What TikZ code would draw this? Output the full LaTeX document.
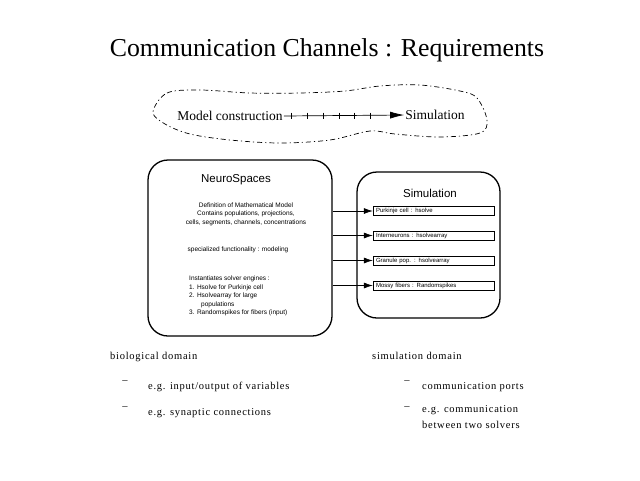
\documentclass[tikz,border=0pt]{standalone}
\usepackage{fontspec}
\setmainfont{Liberation Serif}
\setsansfont{Liberation Sans}
\usetikzlibrary{arrows.meta}
\begin{document}
\begin{tikzpicture}[x=1pt,y=-1pt,
  titlefont/.style={font=\fontsize{25.8}{30}\selectfont},
  cloudtext/.style={font=\fontsize{13.5}{16}\selectfont, inner sep=1pt},
  cloudline/.style={line width=0.7pt, dash pattern=on 5pt off 3pt on 1.2pt off 3pt},
  bigbox/.style={draw, line width=1.3pt, rounded corners=20pt},
  boxtitle/.style={font=\sffamily\fontsize{11.5}{13}\selectfont},
  tiny/.style={font=\sffamily\fontsize{6.5}{8.5}\selectfont, inner sep=0pt},
  inbox/.style={draw, line width=0.5pt, minimum width=121pt, minimum height=9pt, inner sep=0pt, text width=115pt, align=left, font=\sffamily\fontsize{6}{7}\selectfont},
  conn/.style={line width=0.6pt, -{Latex[length=9pt,width=6pt]}},
  bottomtext/.style={font=\fontsize{10.5}{16}\selectfont\addfontfeature{LetterSpace=7}, anchor=base west, inner sep=0pt},
  dashmark/.style={font=\fontsize{10.5}{12}\selectfont, inner sep=0pt}
]
\useasboundingbox (0,0) rectangle (640,480);

% title
\node[titlefont] (title) at (327,50) {Communication Channels : Requirements};

% cloud
\draw[cloudline] plot[smooth cycle, tension=0.55] coordinates {
  (153,112) (167,93) (200,90) (250,93) (300,93) (345,91) (380,86) (420,85)
  (460,91) (477,98) (487,120) (480,133) (440,137) (395,134) (370,131)
  (330,140) (280,143) (230,140) (190,134) (165,124)};

\node[cloudtext] (mc) at (230,116) {Model construction};
\node[cloudtext] (simc) at (435,115) {Simulation};
\draw[line width=0.7pt, -{Latex[length=14pt,width=7pt]}] (mc.east) -- (simc.west);
\foreach \x in {291,307,323,339,354,370} \draw[line width=0.7pt] (\x,112.5) -- (\x,119);

% NeuroSpaces box
\node[bigbox, minimum width=184pt, minimum height=176pt] (ns) at (240,248) {};
\node[boxtitle] (nst) at (236,180) {NeuroSpaces};
\node[tiny, align=center] (def) at (246,214) {Definition of Mathematical Model\\Contains populations, projections,\\cells, segments, channels, concentrations};
\node[tiny] (spec) at (238,250) {specialized functionality : modeling};
\node[tiny, align=left, anchor=north west] (inst) at (189,276) {Instantiates solver engines :\\1. Hsolve for Purkinje cell\\2. Hsolvearray for large\\\hspace*{12pt}populations\\3. Randomspikes for fibers (input)};

% Simulation box
\node[bigbox, minimum width=143pt, minimum height=146pt] (sb) at (428.5,245) {};
\node[boxtitle] (sbt) at (430,193) {Simulation};
\node[inbox] (b1) at (433.5,211) {Purkinje cell : hsolve};
\node[inbox] (b2) at (433.5,235.5) {Interneurons : hsolvearray};
\node[inbox] (b3) at (433.5,260.5) {Granule pop. : hsolvearray};
\node[inbox] (b4) at (433.5,285.5) {Mossy fibers : Randomspikes};
\foreach \b in {b1,b2,b3,b4} \draw[conn] (ns.east |- \b.west) -- (\b.west);

% bottom text
\node[bottomtext] (bio) at (110,359) {biological domain};
\node[dashmark] (d1) at (125,382) {–};
\node[bottomtext] (i1) at (148,389) {e.g. input/output of variables};
\node[dashmark] (d2) at (125,408) {–};
\node[bottomtext] (i2) at (148,415) {e.g. synaptic connections};

\node[bottomtext] (simd) at (372,359) {simulation domain};
\node[dashmark] (d3) at (407,382) {–};
\node[bottomtext] (s1) at (422,389) {communication ports};
\node[dashmark] (d4) at (407,408) {–};
\node[bottomtext, align=left, anchor=north west] (s2) at (422,405.5) {e.g. communication\\between two solvers};
\end{tikzpicture}
\end{document}
